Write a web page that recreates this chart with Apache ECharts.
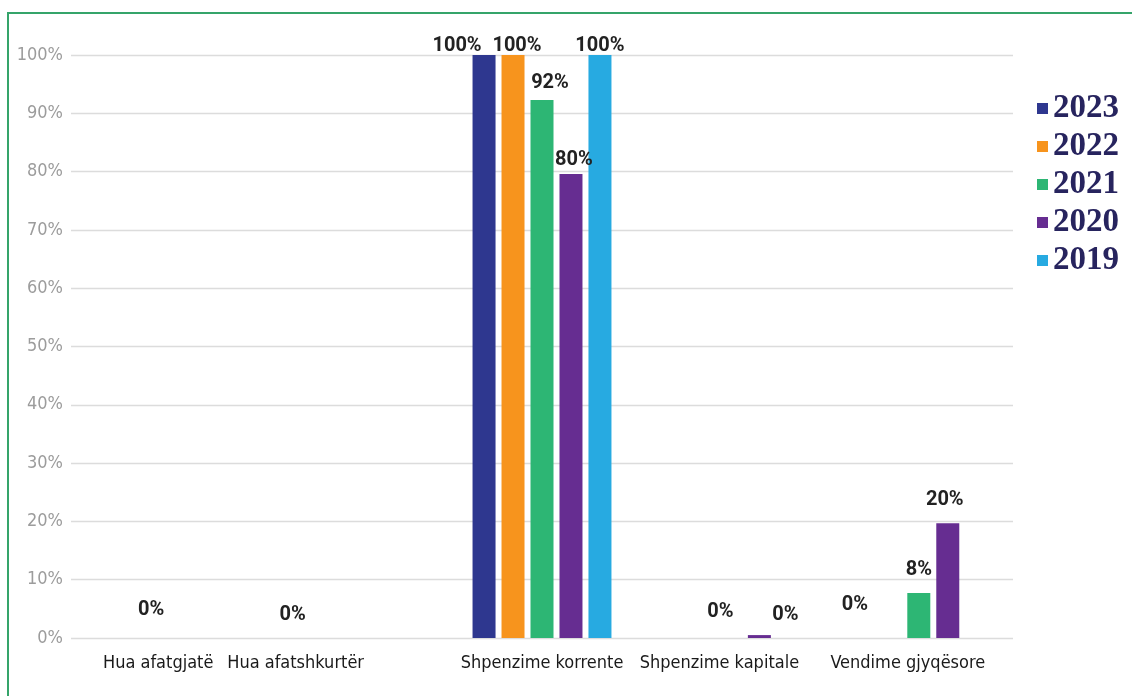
<!DOCTYPE html>
<html>
<head>
<meta charset="utf-8">
<script src="https://cdn.jsdelivr.net/npm/echarts@6/dist/echarts.min.js"></script>
<style>
html,body{margin:0;padding:0;background:#fff;}
#frame{position:absolute;left:7px;top:12px;width:1130px;height:690px;border-left:2.5px solid #35a46a;border-top:2.5px solid #35a46a;box-sizing:border-box;}
#chart{position:absolute;left:0;top:0;width:1132px;height:696px;}
</style>
</head>
<body>
<div id="frame"></div>
<div id="chart"></div>
<script>
const categories = ['Hua afatgjatë', 'Hua afatshkurtër', 'Shpenzime korrente', 'Shpenzime kapitale', 'Vendime gjyqësore'];
const years = ['2023', '2022', '2021', '2020', '2019'];
const v2023 = [null, 0, 100, null, 0];
const v2022 = [0, null, 100, null, null];
const v2021 = [null, null, 92.3, 0, 7.7];
const v2020 = [null, null, 79.6, 0.5, 19.7];
const v2019 = [null, null, 100, 0, null];
const yTicks = [0, 10, 20, 30, 40, 50, 60, 70, 80, 90, 100];

const colors = ['#2e378f', '#f7941d', '#2db674', '#662d91', '#27aae1'];
const seriesValues = [v2023, v2022, v2021, v2020, v2019];

// label styling per item (only style/offset), key = series-category
const labelOpts = {
  '0-1': {offset: [-3, -9]},
  '0-2': {offset: [-27, 5]},
  '0-4': {offset: [-6, -19]},
  '1-0': {offset: [15, -14]},
  '1-2': {offset: [4, 5]},
  '2-2': {offset: [8, -3]},
  '2-3': {offset: [-10, -12]},
  '2-4': {offset: [0, -9]},
  '3-2': {offset: [3, 0]},
  '3-3': {show: false},
  '3-4': {offset: [-3, -9]},
  '4-2': {offset: [0, 5]},
  '4-3': {offset: [-3, -9]}
};

const series = seriesValues.map((arr, si) => ({
  name: years[si],
  type: 'bar',
  barWidth: 23,
  barGap: '26%',
  itemStyle: {color: colors[si]},
  label: {
    show: true,
    position: 'top',
    distance: 4,
    formatter: p => Math.round(p.value) + '%',
    fontFamily: 'Roboto',
    fontWeight: 'bold',
    fontSize: 20,
    color: '#222'
  },
  data: arr.map((v, ci) => {
    if (v === null) return null;
    const lo = labelOpts[si + '-' + ci];
    return lo ? {value: v, label: lo} : v;
  })
}));

const xShift = [14, 116, 0, 22, 22];
const rich = {};
xShift.forEach((s, i) => {
  rich['s' + i] = {
    fontFamily: 'DejaVu Sans Condensed',
    fontSize: 18,
    color: '#1a1a1a',
    padding: [0, s, 0, 0]
  };
});

const chart = echarts.init(document.getElementById('chart'));
chart.setOption({
  animation: false,
  grid: {left: 71, right: 119, top: 55, bottom: 58},
  legend: {
    orient: 'vertical',
    left: 1032,
    top: 87,
    itemWidth: 11,
    itemHeight: 11,
    itemGap: 5,
    icon: 'rect',
    textStyle: {fontFamily: 'Liberation Serif', fontWeight: 'bold', fontSize: 33, lineHeight: 30, color: '#27245e'},
    data: years
  },
  xAxis: {
    type: 'category',
    data: categories,
    axisLine: {show: false},
    axisTick: {show: false},
    axisLabel: {
      margin: 16,
      interval: 0,
      formatter: (v, i) => '{s' + i + '|' + v + '}',
      rich: rich
    }
  },
  yAxis: {
    type: 'value',
    min: yTicks[0],
    max: yTicks[yTicks.length - 1],
    interval: 10,
    axisLabel: {
      formatter: v => v + '%',
      fontFamily: 'DejaVu Sans Condensed',
      fontSize: 18,
      color: '#9c9c9c',
      margin: 8,
      verticalAlign: 'middle',
      padding: [0, 0, 4, 0]
    },
    splitLine: {lineStyle: {color: '#dcdcdc', width: 1.3}},
    axisLine: {show: false},
    axisTick: {show: false}
  },
  series: series
});
</script>
</body>
</html>
